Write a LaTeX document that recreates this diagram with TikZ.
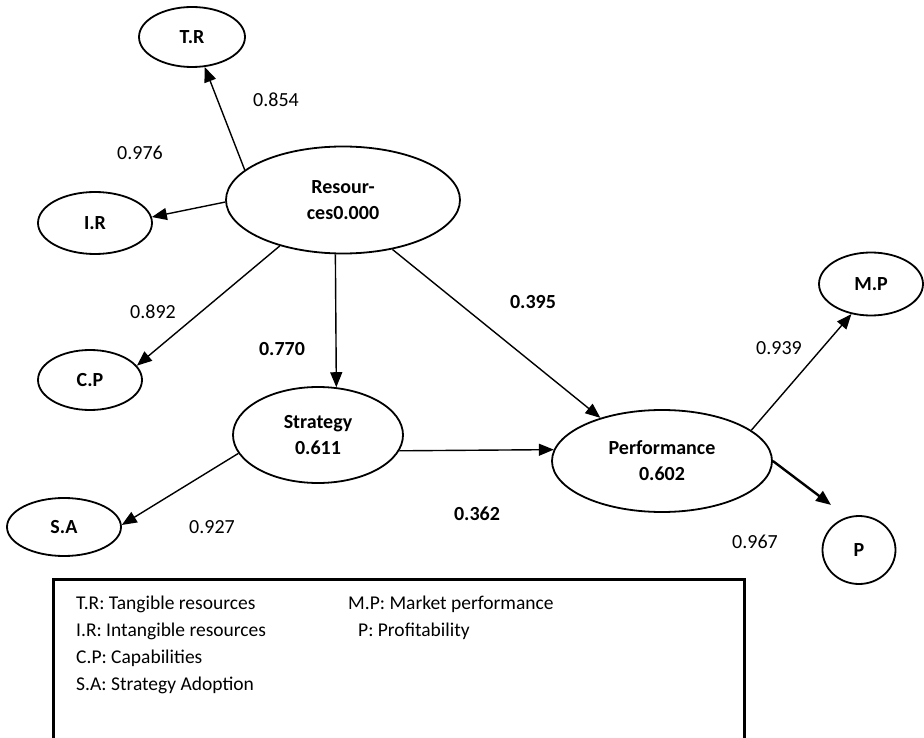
\documentclass[tikz,border=0pt]{standalone}
\usepackage{fontspec}
\setmainfont{Carlito}
\usetikzlibrary{shapes.geometric,arrows.meta}

\begin{document}
\begin{tikzpicture}[x=1pt,y=-1pt,
lv/.style={ellipse,draw,line width=1.8pt,inner sep=0pt,align=center,font=\fontsize{20}{26}\selectfont\bfseries},
lnk/.style={line width=1.4pt,-{Triangle[length=15pt,width=12pt]}},
wt/.style={font=\fontsize{20}{24}\selectfont},
key/.style={anchor=base west,inner sep=0pt,font=\fontsize{19.5}{24}\selectfont}]
\useasboundingbox (0,0) rectangle (924,738);
\node [lv,minimum width=106,minimum height=60] (tr) at (192,37) {T.R};
\node [lv,minimum width=114,minimum height=62] (ir) at (95,223) {I.R};
\node [lv,minimum width=234,minimum height=107] (res) at (343,200) {Resour-\\ces0.000};
\node [lv,minimum width=104,minimum height=60] (cp) at (90,380) {C.P};
\node [lv,minimum width=170,minimum height=96] (strat) at (318,435) {Strategy\\0.611};
\node [lv,minimum width=114,minimum height=58] (sa) at (64,527) {S.A};
\node [lv,minimum width=220,minimum height=102] (perf) at (662,461) {Performance\\0.602};
\node [lv,minimum width=104,minimum height=63] (mp) at (871,284) {M.P};
\node [lv,minimum width=73,minimum height=68] (p) at (859,550) {P};
\draw [lnk] (res.163) -- (tr.293);
\draw [lnk] (res.181) -- (ir.6);
\draw [lnk] (res.216) -- (cp.17);
\draw [lnk] (res.262) -- (strat.69);
\draw [lnk] (res.315) -- (perf.145);
\draw [lnk] (strat.-11) -- (perf.174);
\draw [lnk] (strat.193) -- (sa.2);
\draw [lnk] (perf.19) -- (mp.237);
\draw [lnk,line width=2.4pt,shorten >=20pt] (perf.0) -- (p.110);
\node [wt] (wtr) at (276,100) {0.854};
\node [wt] (wir) at (140,153) {0.976};
\node [wt] (wcp) at (153,312) {0.892};
\node [wt,font=\fontsize{20}{24}\selectfont\bfseries] (wrs) at (282,349) {0.770};
\node [wt,font=\fontsize{20}{24}\selectfont\bfseries] (wrp) at (533,302) {0.395};
\node [wt] (wmp) at (779,348) {0.939};
\node [wt] (wsa) at (212,527) {0.927};
\node [wt,font=\fontsize{20}{24}\selectfont\bfseries] (wsp) at (477,514) {0.362};
\node [wt] (wp) at (755,542) {0.967};
\draw [line width=3pt] (53,579) rectangle (744,760);
\node [key] (k1) at (76,609) {T.R: Tangible resources};
\node [key] (k2) at (76,636) {I.R: Intangible resources};
\node [key] (k3) at (76,663) {C.P: Capabilities};
\node [key] (k4) at (76,690) {S.A: Strategy Adoption};
\node [key] (k5) at (348,609) {M.P: Market performance};
\node [key] (k6) at (358,636) {P: Profitability};
\end{tikzpicture}
\end{document}
